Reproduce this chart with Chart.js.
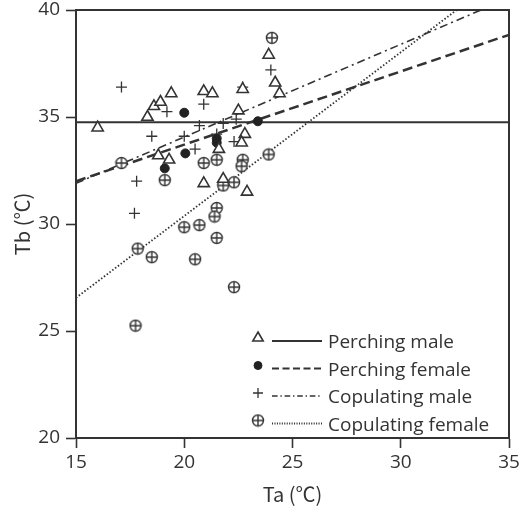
<!DOCTYPE html>
<html>
<head>
<meta charset="utf-8">
<script src="https://cdn.jsdelivr.net/npm/chart.js@4"></script>
<style>
  html, body { margin: 0; padding: 0; background: #fff; }
  #wrap { width: 521px; height: 510px; }
</style>
</head>
<body>
<div id="wrap"><canvas id="tb_chart" width="521" height="510"></canvas></div>
<script>
// groups (legend order)
const groupNames = ["Perching male", "Perching female", "Copulating male", "Copulating female"];

// Ta / Tb
const perchMaleTa = [16.0, 18.3, 18.6, 18.9, 19.4, 20.9, 21.3, 22.7, 22.5, 23.9, 24.2, 24.4, 22.8, 22.65, 21.6, 18.8, 19.3, 20.9, 21.8, 22.9];
const perchMaleTb = [34.5, 35.0, 35.5, 35.7, 36.1, 36.2, 36.1, 36.3, 35.3, 37.9, 36.6, 36.1, 34.2, 33.8, 33.5, 33.2, 33.0, 31.9, 32.1, 31.5];

const perchFemaleTa = [20.0, 23.4, 20.05, 19.1, 21.5, 21.5];
const perchFemaleTb = [35.2, 34.8, 33.3, 32.6, 34.0, 33.8];

const copMaleTa = [17.1, 19.2, 20.9, 22.7, 24.0, 18.5, 20.0, 20.7, 21.8, 22.4, 20.5, 22.3, 21.5, 17.8, 17.7];
const copMaleTb = [36.4, 35.25, 35.6, 36.4, 37.2, 34.1, 34.1, 34.6, 34.7, 34.9, 33.5, 33.85, 34.2, 32.0, 30.5];

const copFemaleTa = [24.05, 23.9, 17.1, 19.1, 20.9, 21.5, 22.7, 22.65, 22.3, 21.8, 21.5, 21.4, 20.7, 20.0, 21.5, 17.85, 18.5, 20.5, 22.3, 17.75];
const copFemaleTb = [38.7, 33.25, 32.85, 32.05, 32.85, 33.0, 33.0, 32.7, 31.95, 31.8, 30.75, 30.35, 29.95, 29.85, 29.35, 28.85, 28.45, 28.35, 27.05, 25.25];

// regression lines: Tb at Ta=15 and slope
const fitAt15 = [34.75, 32.0, 31.9, 26.55];
const fitSlope = [0, 0.342, 0.433, 0.765];

// axes
const xTicks = [15, 20, 25, 30, 35];
const yTicks = [20, 25, 30, 35, 40];

const ink = '#333';
const tickFont = { family: "'Open Sans', 'Noto Sans', sans-serif", size: 19 };
const titleFont = { family: "'Noto Sans CJK JP', 'Open Sans', sans-serif", size: 20 };

// crossed circle marker
function crossCircle() {
    let c = document.createElement('canvas');
    c.width = 14; c.height = 14;
    let g = c.getContext('2d');
    g.strokeStyle = ink;
    g.lineWidth = 1.4;
    g.beginPath(); g.arc(7, 7, 5.5, 0, Math.PI * 2); g.fillStyle = '#fff'; g.fill(); g.stroke();
    g.beginPath();
    g.moveTo(7, 1.5); g.lineTo(7, 12.5);
    g.moveTo(1.5, 7); g.lineTo(12.5, 7);
    g.stroke();
    return c;
}
const crossCircleImg = crossCircle();

const pointStyles = [
    { pointStyle: 'triangle', pointRadius: 6.5, pointBackgroundColor: '#fff', pointBorderColor: ink, pointBorderWidth: 1.6 },
    { pointStyle: 'circle', pointRadius: 4.5, pointBackgroundColor: '#222', pointBorderColor: '#222', pointBorderWidth: 1 },
    { pointStyle: 'cross', pointRadius: 5.5, pointBackgroundColor: ink, pointBorderColor: ink, pointBorderWidth: 1.3 },
    { pointStyle: crossCircleImg, pointRadius: 6, pointBackgroundColor: '#fff', pointBorderColor: ink, pointBorderWidth: 1.3 }
];
const lineStyles = [
    { borderDash: [], borderWidth: 2 },
    { borderDash: [10, 5], borderWidth: 2.5 },
    { borderDash: [8, 4, 2, 4], borderWidth: 1.6 },
    { borderDash: [1.5, 2], borderWidth: 1.8 }
];

const xs = [perchMaleTa, perchFemaleTa, copMaleTa, copFemaleTa];
const ys = [perchMaleTb, perchFemaleTb, copMaleTb, copFemaleTb];

let datasets = [];
// fit lines first so the markers sit on top
groupNames.forEach(function (name, i) {
    datasets.push(Object.assign({
        label: name + ' fit',
        data: [{ x: 15, y: fitAt15[i] }, { x: 35, y: fitAt15[i] + 20 * fitSlope[i] }],
        showLine: true,
        borderColor: ink,
        pointRadius: 0,
        fill: false,
        order: 2
    }, lineStyles[i]));
});
groupNames.forEach(function (name, i) {
    datasets.push(Object.assign({
        label: name,
        data: xs[i].map(function (v, k) { return { x: v, y: ys[i][k] }; }),
        showLine: false,
        order: 1
    }, pointStyles[i]));
});

// frame round the plot
const frame = {
    id: 'frame',
    afterDatasetsDraw(chart) {
        let a = chart.chartArea, ctx = chart.ctx;
        ctx.save();
        ctx.strokeStyle = ink;
        ctx.lineWidth = 2;
        ctx.strokeRect(a.left, a.top, a.right - a.left, a.bottom - a.top);
        ctx.restore();
    }
};

// legend: marker, line sample, name
const legendBox = {
    id: 'legendBox',
    afterDraw(chart) {
        let ctx = chart.ctx;
        let a = chart.chartArea;
        let mx = a.left + 182, lx0 = a.left + 196, lx1 = a.left + 246, tx = a.left + 252;
        let y0 = a.top + 328, step = 27.5;
        ctx.save();
        groupNames.forEach(function (name, i) {
            let y = y0 + i * step;
            let ps = pointStyles[i];
            ctx.strokeStyle = ps.pointBorderColor;
            ctx.fillStyle = ps.pointBackgroundColor;
            ctx.lineWidth = ps.pointBorderWidth;
            ctx.setLineDash([]);
            Chart.helpers.drawPoint(ctx, {
                pointStyle: ps.pointStyle, radius: ps.pointRadius - 0.5, rotation: 0, borderWidth: ps.pointBorderWidth
            }, mx, y);
            ctx.strokeStyle = ink;
            ctx.lineWidth = Math.min(lineStyles[i].borderWidth, 2);
            ctx.setLineDash(lineStyles[i].borderDash.map(function (d) { return d * 0.7; }));
            ctx.beginPath();
            ctx.moveTo(lx0, y + 3);
            ctx.lineTo(lx1, y + 3);
            ctx.stroke();
            ctx.setLineDash([]);
            ctx.fillStyle = ink;
            ctx.font = "19px 'Open Sans', 'Noto Sans', sans-serif";
            ctx.textBaseline = 'middle';
            ctx.fillText(name, tx, y + 5);
        });
        ctx.restore();
    }
};

let context = document.getElementById('tb_chart').getContext('2d');
new Chart(context, {
    type: 'scatter',
    data: { datasets: datasets },
    options: {
        responsive: false,
        animation: false,
        layout: { padding: { left: 0, top: 10, right: 12, bottom: 0 } },
        plugins: {
            legend: { display: false },
            tooltip: { enabled: false }
        },
        scales: {
            x: {
                type: 'linear',
                min: 15, max: 35,
                afterBuildTicks: function (s) { s.ticks = xTicks.map(function (v) { return { value: v }; }); },
                afterFit: function (s) { s.height = 72; s.paddingLeft = 0; s.paddingRight = 0; },
                grid: { display: true, drawOnChartArea: false, drawTicks: true, tickLength: 10, tickColor: ink, tickWidth: 1.6 },
                border: { display: true, color: ink, width: 2 },
                ticks: { color: ink, font: tickFont, padding: 3, maxRotation: 0 },
                title: { display: true, text: 'Ta (℃)', color: ink, font: titleFont, padding: { top: 0, bottom: 4 } }
            },
            y: {
                type: 'linear',
                min: 20, max: 40,
                afterBuildTicks: function (s) { s.ticks = yTicks.map(function (v) { return { value: v }; }); },
                afterFit: function (s) { s.width = 76; s.paddingTop = 0; s.paddingBottom = 0; },
                grid: { display: true, drawOnChartArea: false, drawTicks: true, tickLength: 10, tickColor: ink, tickWidth: 1.6 },
                border: { display: true, color: ink, width: 2 },
                ticks: { color: ink, font: tickFont, padding: 6 },
                title: { display: true, text: 'Tb (℃)', color: ink, font: titleFont, padding: { top: 10, bottom: 0 } }
            }
        }
    },
    plugins: [frame, legendBox]
});
</script>
</body>
</html>
